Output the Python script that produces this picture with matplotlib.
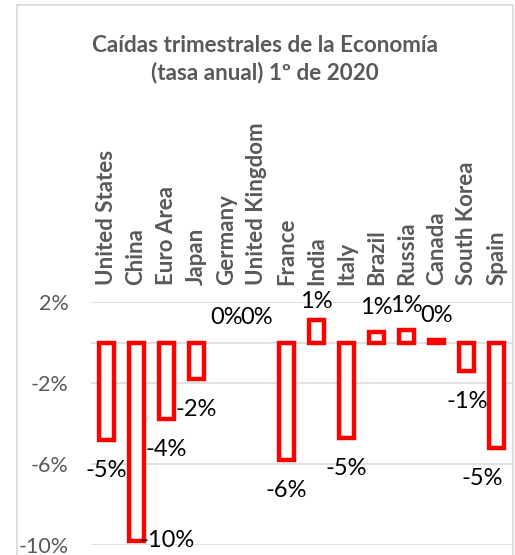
import numpy as np
import matplotlib
matplotlib.use("Agg")
import matplotlib.pyplot as plt
from matplotlib.patches import Rectangle
from matplotlib.ticker import FixedLocator, FuncFormatter

plt.rcParams['font.family'] = ['Lato', 'DejaVu Sans']

# datos (% trimestral)
paises = ['United States', 'China', 'Euro Area', 'Japan', 'Germany',
          'United Kingdom', 'France', 'India', 'Italy', 'Brazil', 'Russia',
          'Canada', 'South Korea', 'Spain']
caidas = [-4.8, -9.8, -3.8, -1.8, 0.0, 0.0, -5.8, 1.1, -4.7, 0.5, 0.6,
          0.1, -1.4, -5.2]
ticks_y = [2, -2, -6, -10]

GRIS = '#595959'
GRID = '#d9d9d9'
ROJO = '#ff0000'


def etiqueta(v):
    # redondeo tipo Excel (mitad hacia arriba)
    r = int(np.floor(abs(v) + 0.5))
    if v < 0 and r != 0:
        return f'-{r}%'
    return f'{r}%'


fig = plt.figure(figsize=(5.15, 5.55), dpi=100)
ax = fig.add_axes([91 / 515, 1 - 545 / 555, 421 / 515, 243 / 555])

n = len(paises)
x = np.arange(n)
vals = np.array(caidas)
anchos = np.where(vals == 0, 0, 3.2)
ax.bar(x, vals, width=0.5, facecolor='white', edgecolor=ROJO,
       linewidth=anchos, zorder=3)

ymin, ymax = -10, 2
ax.set_ylim(ymin, ymax)
ax.set_xlim(-0.5, n - 0.5)

ax.yaxis.set_major_locator(FixedLocator(ticks_y))
ax.yaxis.set_major_formatter(FuncFormatter(lambda v, p: f'{v:.0f}%'))
ax.grid(axis='y', color=GRID, linewidth=1.1, zorder=0)
ax.axhline(0, color=GRID, linewidth=1.1, zorder=1)
ax.tick_params(axis='y', length=0, pad=16, labelsize=15.5, labelcolor=GRIS)

# categorias arriba, giradas
ax.xaxis.tick_top()
ax.set_xticks(x)
ax.set_xticklabels(paises, rotation=90, fontweight='bold', color=GRIS,
                   fontsize=16)
ax.tick_params(axis='x', length=0, pad=12)

for s in ax.spines.values():
    s.set_visible(False)

# etiquetas de datos
off_neg, off_pos = 1.5, 1.25
for xi, v in zip(x, vals):
    ha = 'center'
    xl = min(xi, n - 1.5)
    if v < 0:
        yl = v - off_neg
        if yl < ymin:
            yl = v
            xl = xi + 0.1
            ha = 'left'
    else:
        yl = min(v + off_pos, ymax)
    ax.text(xl, yl, etiqueta(v), ha=ha, va='center', fontsize=17,
            color='black', zorder=4)

fig.text(265 / 515, 1 - 59 / 555,
         'Caídas trimestrales de la Economía\n(tasa anual) 1º de 2020',
         ha='center', va='center', fontsize=16.2, fontweight='bold',
         color=GRIS, linespacing=1.3)

fig.patches.append(Rectangle((17 / 515, -0.05), 496 / 515, 1.05 - 5 / 555,
                             transform=fig.transFigure, fill=False,
                             edgecolor=GRID, linewidth=1.2))

fig.savefig('out.png', dpi=100, facecolor='white')
